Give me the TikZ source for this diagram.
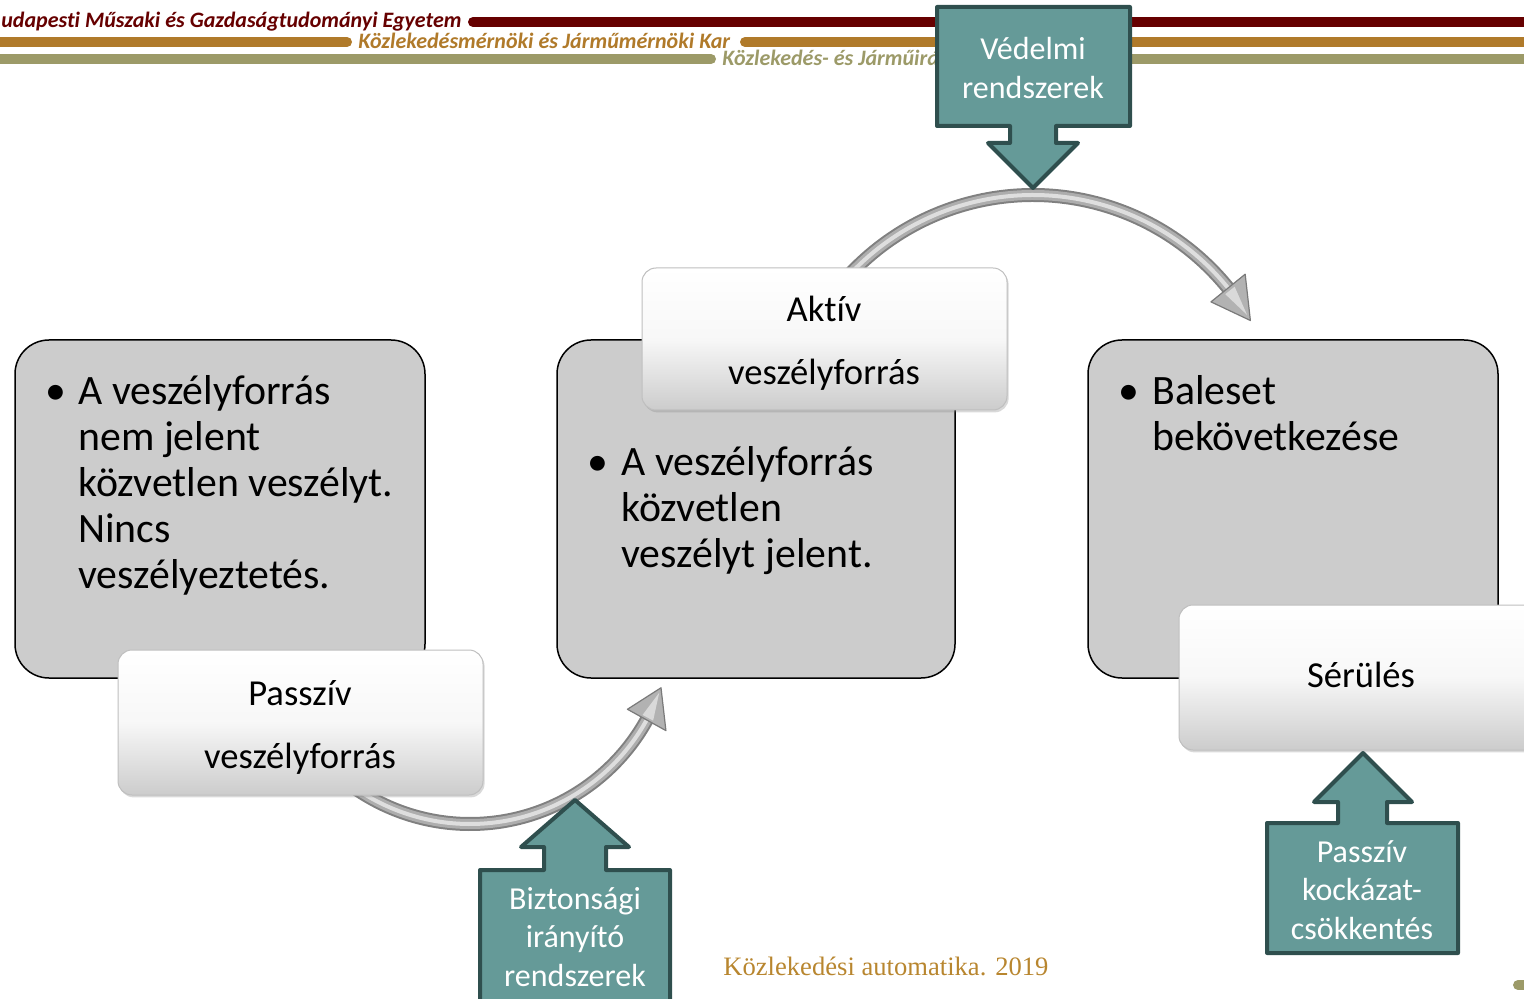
\documentclass[tikz,border=0pt]{standalone}
\usepackage{fontspec}
\setmainfont{Carlito}[Ligatures=NoCommon]
\newfontfamily\footerfont{Liberation Serif}
\usetikzlibrary{calc,shadows}

\definecolor{bmered}{HTML}{660000}
\definecolor{bmeochre}{HTML}{B07A2A}
\definecolor{bmeolive}{HTML}{9C9A68}
\definecolor{footerc}{HTML}{B8862F}
\definecolor{tealfill}{HTML}{659A98}
\definecolor{tealline}{HTML}{2F4F4E}
\definecolor{boxgray}{HTML}{CCCCCC}

\begin{document}
\begin{tikzpicture}[x=0.5pt,y=-0.5pt,
  bar/.style={line width=5pt,line cap=round},
  headtext/.style={font=\fontsize{11}{13}\selectfont\bfseries\itshape,inner sep=0},
  riskbox/.style={draw=black,line width=0.75pt,fill=boxgray,rounded corners=17pt},
  bodytext/.style={font=\fontsize{20.9}{23}\selectfont,inner sep=0,anchor=base west},
  bulletmark/.style={font=\fontsize{20.9}{23}\selectfont,inner sep=0,anchor=base},
  labelbox/.style={draw=black!25,line width=0.5pt,rounded corners=7pt,
    top color=white,bottom color=black!20,middle color=white!97!black,
    drop shadow={shadow xshift=0.8pt,shadow yshift=-1.2pt,opacity=0.3}},
  labeltext/.style={font=\fontsize{18.3}{31.5}\selectfont,inner sep=0,anchor=base},
  callout/.style={fill=tealfill,draw=tealline,line width=2pt,line join=round},
  callouttext/.style={font=\fontsize{16}{19.3}\selectfont,text=white,inner sep=0,anchor=base},
  tubeout/.style={line width=7pt,draw=black!50},
  tubemid/.style={line width=5pt,draw=black!32},
  tubein/.style={line width=2pt,draw=black!13},
  tubehead/.style={fill=black!30,draw=black!52,line width=0.6pt,line join=round},
  tubeshine/.style={fill=black!15},
]
\useasboundingbox (0,0) rectangle (1524,999);
\clip (0,0) rectangle (1524,999);

% header stripes
\draw[bar,bmered] (473,22) -- (1560,22);
\draw[bar,bmeochre] (-20,42) -- (347,42);
\draw[bar,bmeochre] (745,42) -- (1560,42);
\draw[bar,bmeolive] (-20,59) -- (711,59);
\draw[bar,bmeolive] (1105,59) -- (1560,59);
\draw[bar,bmeolive] (1518,985) -- (1560,985);

\node[headtext,text=bmered,anchor=base west] (uni) at (1,28)
  {udapesti Műszaki és Gazdaságtudományi Egyetem};
\node[headtext,text=bmeochre,anchor=base west] (kar) at (358,49)
  {Közlekedésmérnöki és Járműmérnöki Kar};
\node[headtext,text=bmeolive,anchor=base west] (tanszek) at (722,66)
  {Közlekedés- és Járműirá};

% the three states
\draw[riskbox] (15,340) rectangle (425,678);
\draw[riskbox] (557,340) rectangle (955,678);
\draw[riskbox] (1088,340) rectangle (1498,678);

\node[bulletmark] (b1) at (56,405) {•};
\node[bodytext] (t1) at (78,405) {\parbox[t]{200pt}{\raggedright
  A veszélyforrás\\nem jelent\\közvetlen veszélyt.\\Nincs\\veszélyeztetés.}};
\node[bulletmark] (b2) at (598,475) {•};
\node[bodytext] (t2) at (621,475) {\parbox[t]{170pt}{\raggedright
  A veszélyforrás\\közvetlen\\veszélyt jelent.}};
\node[bulletmark] (b3) at (1129,405) {•};
\node[bodytext] (t3) at (1152,405) {\parbox[t]{170pt}{\raggedright
  Baleset\\bekövetkezése}};

% transition arcs
\coordinate (cb) at (470,622);
\coordinate (ct) at (1033,446);
\foreach \s in {tubeout,tubemid,tubein}
  \draw[\s] ($(cb)+(125:202)$) arc[start angle=125,end angle=27,radius=202];
\draw[tubehead] ($(cb)+(29:180)$) -- ($(cb)+(19:202)$) -- ($(cb)+(29:224)$) -- cycle;
\fill[tubeshine] ($(cb)+(28.3:196)$) -- ($(cb)+(20.5:202)$) -- ($(cb)+(28.3:208)$) -- cycle;
\foreach \s in {tubeout,tubemid,tubein}
  \draw[\s] ($(ct)+(-138:251)$) arc[start angle=-138,end angle=-37,radius=251];
\draw[tubehead] ($(ct)+(-39:229)$) -- ($(ct)+(-30:251)$) -- ($(ct)+(-39:273)$) -- cycle;
\fill[tubeshine] ($(ct)+(-38.3:245)$) -- ($(ct)+(-31.5:251)$) -- ($(ct)+(-38.3:257)$) -- cycle;

% state labels
\draw[labelbox] (118,650) rectangle (483,795);
\node[labeltext] (passziv) at (300,705) {\parbox[t]{170pt}{\centering Passzív\\veszélyforrás}};
\draw[labelbox] (642,268) rectangle (1007,410);
\node[labeltext] (aktiv) at (824,322) {\parbox[t]{170pt}{\centering Aktív\\veszélyforrás}};
\draw[labelbox] (1179,605) rectangle (1580,750);
\node[labeltext] (serules) at (1361,687) {Sérülés};

% intervention callouts
\draw[callout] (937,7) -- (1130,7) -- (1130,126) -- (1056,126) -- (1056,143)
  -- (1078,143) -- (1033,188) -- (988,143) -- (1010,143) -- (1010,126)
  -- (937,126) -- cycle;
\node[callouttext] (vedelmi) at (1033,60) {\parbox[t]{90pt}{\centering Védelmi\\rendszerek}};

\draw[callout] (480,1015) -- (480,870) -- (544,870) -- (544,847) -- (521,847)
  -- (575,800) -- (629,847) -- (606,847) -- (606,870) -- (670,870)
  -- (670,1015) -- cycle;
\node[callouttext] (bizt) at (575,909) {\parbox[t]{90pt}{\centering Biztonsági\\irányító\\rendszerek}};

\draw[callout] (1267,953) -- (1267,823) -- (1338,823) -- (1338,802) -- (1314,802)
  -- (1363,753) -- (1412,802) -- (1387,802) -- (1387,823) -- (1458,823)
  -- (1458,953) -- cycle;
\node[callouttext] (passzivk) at (1362,862) {\parbox[t]{90pt}{\centering Passzív\\kockázat-\\csökkentés}};

% footer
\node[font=\footerfont\fontsize{13.3}{16}\selectfont,text=footerc,anchor=base west,inner sep=0]
  (footer) at (723,975) {Közlekedési automatika. 2019};
\end{tikzpicture}
\end{document}
